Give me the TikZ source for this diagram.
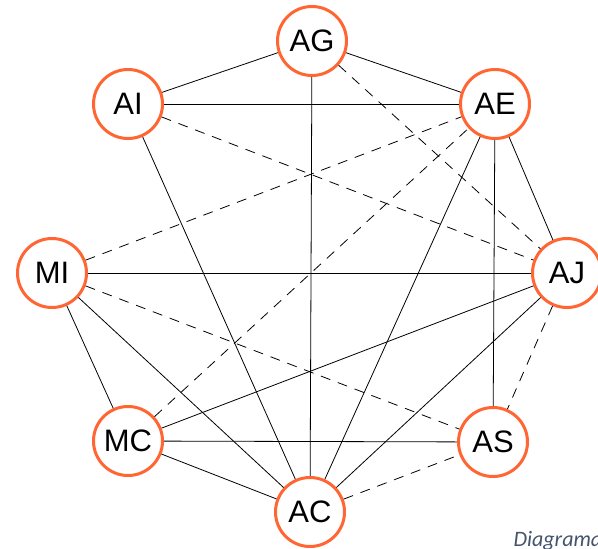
\documentclass[tikz,border=0pt]{standalone}
\usepackage{fontspec}
\setmainfont{Liberation Sans}
\newfontfamily\capfont{Carlito}
\definecolor{ringorange}{HTML}{FF6633}
\definecolor{captionblue}{HTML}{44546A}

\begin{document}
\begin{tikzpicture}[x=1pt,y=-1pt,
  var/.style={circle, draw=ringorange, line width=3pt, fill=white,
    minimum size=69pt, inner sep=0pt, font=\fontsize{31}{31}\selectfont},
  rel/.style={line width=0.8pt},
  weak/.style={line width=0.8pt, dash pattern=on 10pt off 8pt}]
\useasboundingbox (0,0) rectangle (598,549);
% the eight variables
\node[var] (AG) at (312,41)  {AG};
\node[var] (AI) at (128,104) {AI};
\node[var] (AE) at (495,104) {AE};
\node[var] (MI) at (52,273)  {MI};
\node[var] (AJ) at (567,273) {AJ};
\node[var] (MC) at (128,441) {MC};
\node[var] (AS) at (493,442) {AS};
\node[var] (AC) at (310,512) {AC};
% solid links
\foreach \a/\b in {AG/AI, AG/AE, AG/AC, AI/AE, AI/AC, AE/AJ, AE/AS, AE/AC,
  MI/AJ, MI/MC, MI/AC, AJ/MC, AJ/AC, MC/AS, MC/AC}
  \draw[rel] (\a) -- (\b);
% dashed links
\foreach \a/\b in {AG/AJ, AI/AJ, MI/AE, MC/AE, MI/AS, AJ/AS, AC/AS}
  \draw[weak] (\a) -- (\b);
\node[anchor=base west, text=captionblue, font=\capfont\itshape\fontsize{22}{22}\selectfont]
  (cap) at (510,546) {Diagrama};
\end{tikzpicture}
\end{document}
